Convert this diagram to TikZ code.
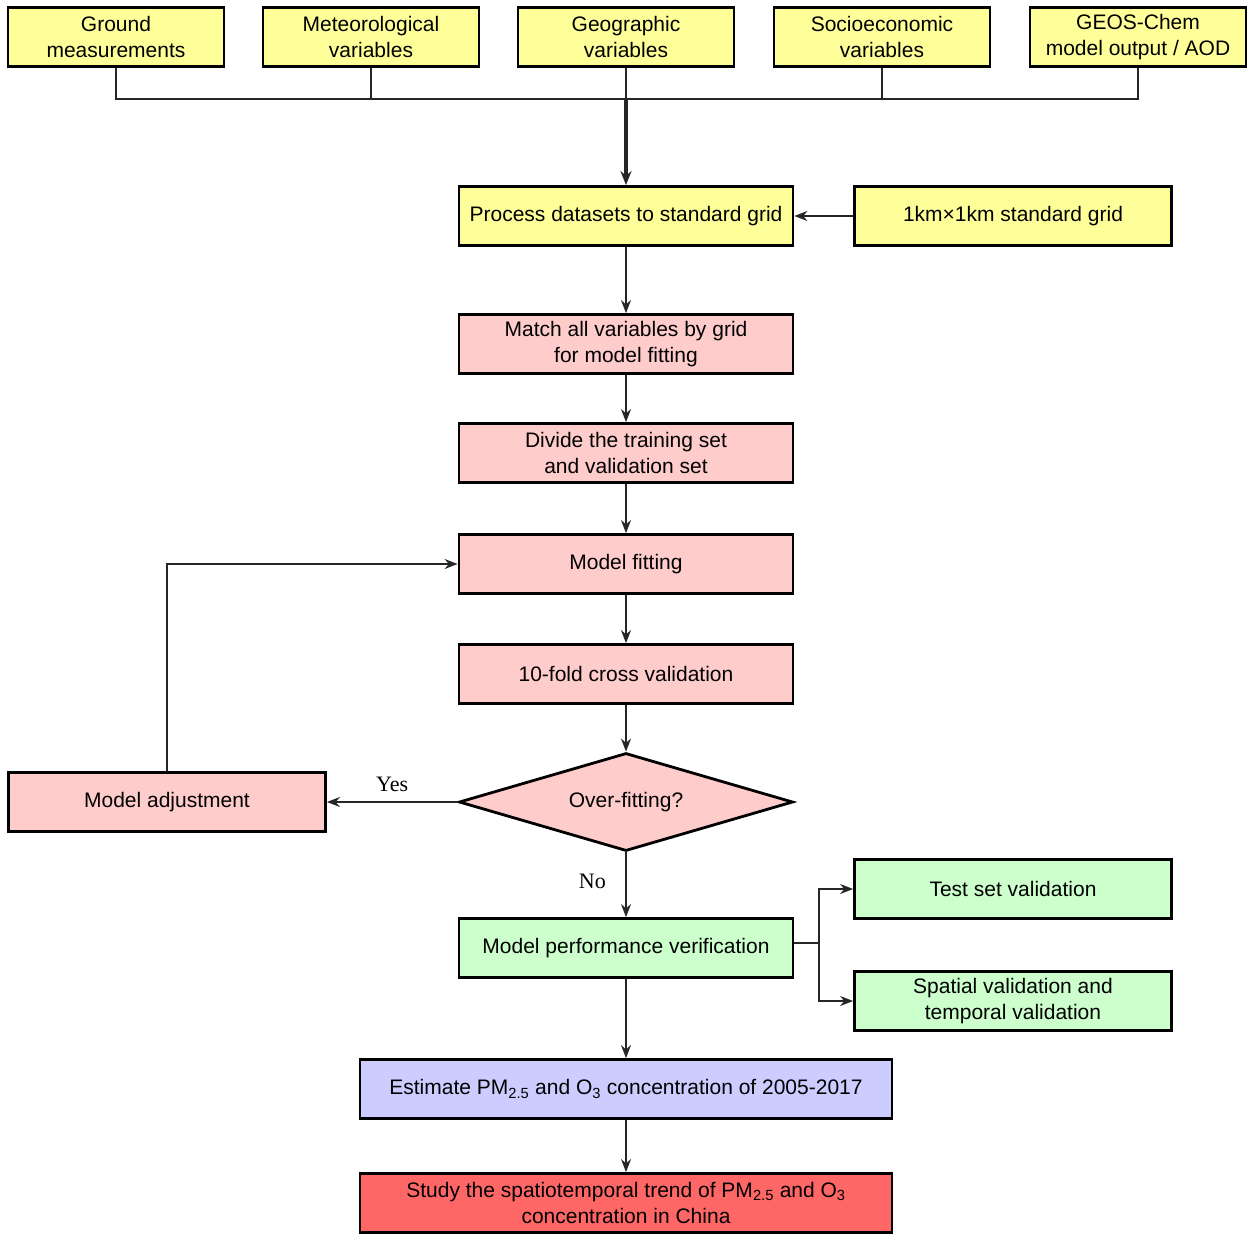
\documentclass[tikz,border=0pt]{standalone}
\usepackage{fontspec}
\setmainfont{Liberation Sans}
\newfontfamily\lserif{Liberation Serif}
\usetikzlibrary{arrows.meta,shapes.geometric}
\definecolor{cyel}{RGB}{255,255,153}
\definecolor{cpink}{RGB}{255,204,204}
\definecolor{cgreen}{RGB}{204,255,204}
\definecolor{cblue}{RGB}{204,204,255}
\definecolor{cred}{RGB}{255,102,102}
\begin{document}
\begin{tikzpicture}[x=1pt,y=-1pt,
  every node/.style={font=\fontsize{21}{26}\selectfont},
  box/.style={draw=black,line width=2.8pt,rectangle,align=center,inner sep=0pt,minimum height=59pt},
  wbox/.style={box,minimum width=216pt},
  mbox/.style={box,minimum width=334pt},
  sbox/.style={box,minimum width=317pt},
  bbox/.style={box,minimum width=532pt},
  dec/.style={draw=black,line width=2.8pt,diamond,aspect=3.4,inner sep=0pt,minimum width=334pt,minimum height=98pt,fill=cpink},
  conn/.style={draw=black!85,line width=1.6pt},
  arr/.style={conn,-{Stealth[length=13pt,width=10pt]}},
  lab/.style={font=\lserif\fontsize{22}{26}\selectfont}
]
\useasboundingbox (0,0) rectangle (1253,1240);
\node[wbox,fill=cyel] (g) at (116,37) {Ground\\measurements};
\node[wbox,fill=cyel] (m) at (371,37) {Meteorological\\variables};
\node[wbox,fill=cyel] (geo) at (626,37) {Geographic\\variables};
\node[wbox,fill=cyel] (s) at (882,37) {Socioeconomic\\variables};
\node[wbox,fill=cyel] (gc) at (1138,37) {GEOS-Chem\\model output / AOD};
\node[mbox,fill=cyel] (proc) at (626,216) {Process datasets to standard grid};
\node[sbox,fill=cyel] (grid) at (1013,216) {1km×1km standard grid};
\node[mbox,fill=cpink] (match) at (626,344) {Match all variables by grid\\for model fitting};
\node[mbox,fill=cpink] (div) at (626,453) {Divide the training set\\and validation set};
\node[mbox,fill=cpink] (fit) at (626,564) {Model fitting};
\node[mbox,fill=cpink] (cv) at (626,674) {10-fold cross validation};
\node[dec] (of) at (626,802) {Over-fitting?};
\node[sbox,fill=cpink] (adj) at (167,802) {Model adjustment};
\node[mbox,fill=cgreen] (perf) at (626,948) {Model performance verification};
\node[sbox,fill=cgreen] (test) at (1013,889) {Test set validation};
\node[sbox,fill=cgreen] (spat) at (1013,1001) {Spatial validation and\\temporal validation};
\node[bbox,fill=cblue] (est) at (626,1089) {Estimate PM\textsubscript{2.5} and O\textsubscript{3} concentration of 2005-2017};
\node[bbox,fill=cred] (study) at (626,1203) {Study the spatiotemporal trend of PM\textsubscript{2.5} and O\textsubscript{3}\\concentration in China};
\coordinate (bus) at (626,99);
\coordinate (br) at (819,943);
\draw[conn] (g.south) |- (bus);
\draw[conn] (m.south) |- (bus);
\draw[conn] (s.south) |- (bus);
\draw[conn] (gc.south) |- (bus);
\draw[conn] (geo.south) -- (bus);
\draw[arr,line width=3.2pt,-{Stealth[length=14pt,width=11pt]}] (bus) -- (proc.north);
\draw[arr] (grid.west) -- (proc.east);
\draw[arr] (proc) -- (match);
\draw[arr] (match) -- (div);
\draw[arr] (div) -- (fit);
\draw[arr] (fit) -- (cv);
\draw[arr] (cv) -- (of.north);
\draw[arr] (of.west) -- node[lab,above=6pt,pos=0.5] {Yes} (adj.east);
\draw[arr] (adj.north) |- (fit.west);
\draw[arr] (of.south) -- node[lab,left,pos=0.45,xshift=-16pt] {No} (perf.north);
\draw[conn] (perf.east |- br) -- (br);
\draw[arr] (br) |- (test.west);
\draw[arr] (br) |- (spat.west);
\draw[arr] (perf) -- (est);
\draw[arr] (est) -- (study);
\end{tikzpicture}
\end{document}
